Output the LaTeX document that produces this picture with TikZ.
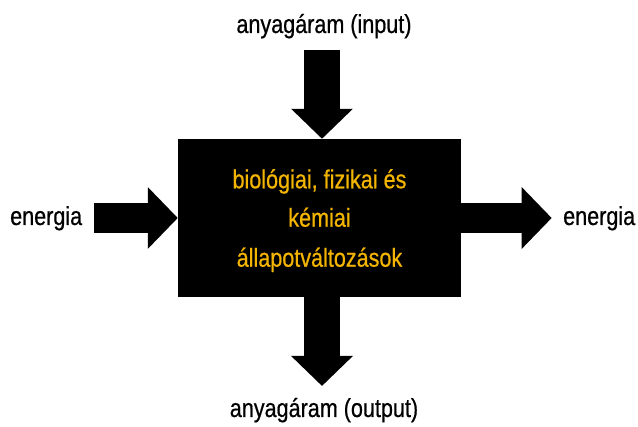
\documentclass[tikz,border=0pt]{standalone}
\usepackage{fontspec}
\setmainfont[FakeStretch=0.83,FakeBold=0.6]{Liberation Sans}
\usetikzlibrary{arrows.meta}
\definecolor{boxtext}{RGB}{243,181,0}
\begin{document}
\begin{tikzpicture}[x=1pt,y=1pt,
  lbl/.style={anchor=base,inner sep=0pt,font=\fontsize{26}{30}\selectfont},
  inlbl/.style={lbl,text=boxtext},
  bigarrowv/.style={line width=36pt,-{Triangle[width=60pt,length=30pt]}},
  bigarrowh/.style={line width=30pt,-{Triangle[width=60pt,length=30pt]}}]
\useasboundingbox (0,0) rectangle (638,427);
\node[fill=black,minimum width=283pt,minimum height=158pt,inner sep=0pt] (box) at (319.5,209) {};
\node[inlbl] (l1) at (319.5,238.7) {biológiai, fizikai és};
\node[inlbl] (l2) at (319.5,200.3) {kémiai};
\node[inlbl] (l3) at (319.5,160.3) {állapotváltozások};
\node[lbl] (tin) at (324,394) {anyagáram (input)};
\node[lbl] (tout) at (324,10) {anyagáram (output)};
\node[lbl,anchor=base west] (eL) at (10,202) {energia};
\node[lbl,anchor=base west] (eR) at (563,202) {energia};
\coordinate (topstart) at (322,377);
\coordinate (topend) at (box.north -| topstart);
\coordinate (botstart) at (box.south -| topstart);
\coordinate (botend) at (322,41);
\coordinate (lstart) at (94.3,209);
\coordinate (rend) at (551.7,209);
\draw[bigarrowv] (topstart) -- (topend);
\draw[bigarrowv] (botstart) -- (botend);
\draw[bigarrowh] (lstart) -- (box.west);
\draw[bigarrowh] (box.east) -- (rend);
\end{tikzpicture}
\end{document}
